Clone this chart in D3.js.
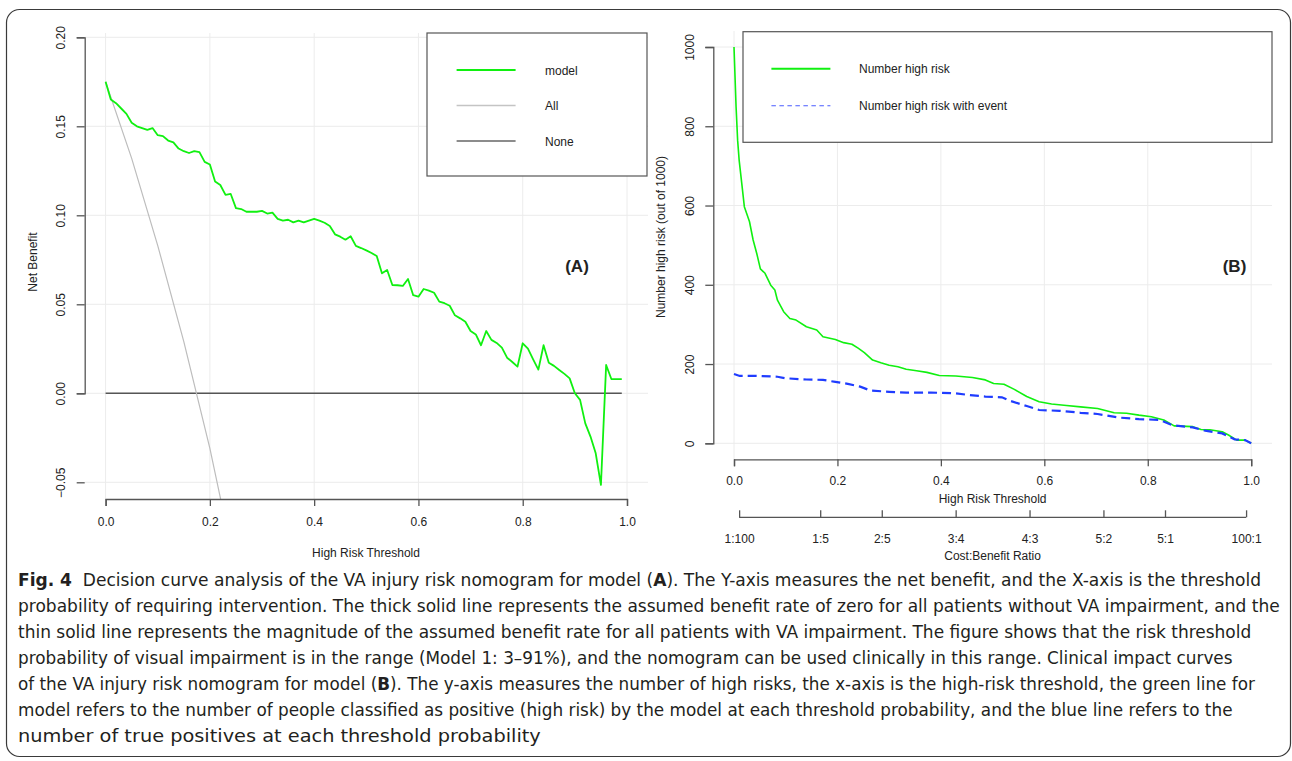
<!DOCTYPE html>
<html>
<head>
<meta charset="utf-8">
<script src="https://cdn.jsdelivr.net/npm/d3@7"></script>
<style>
  body { margin: 0; background: #fff; }
  svg text { font-family: "Liberation Sans", Arial, sans-serif; fill: #222; }
  .cap text { font-family: "Liberation Sans Narrow", "DejaVu Sans Condensed", "Liberation Sans", sans-serif; font-stretch: condensed; fill: #231f20; }
</style>
</head>
<body>
<svg id="fig" width="1292" height="761"></svg>
<script>
// ---- panel A: decision curve ----
var thresholdsA = d3.range(0, 100).map(function (i) { return i / 100; });
var modelNB = [0.175, 0.165, 0.163, 0.160, 0.157, 0.152, 0.150, 0.149, 0.148, 0.149,
  0.145, 0.1445, 0.142, 0.141, 0.1375, 0.136, 0.135, 0.136, 0.1355, 0.130,
  0.1285, 0.119, 0.117, 0.1115, 0.112, 0.104, 0.1035, 0.102, 0.102, 0.102,
  0.1025, 0.101, 0.1015, 0.098, 0.097, 0.0975, 0.096, 0.097, 0.096, 0.097,
  0.098, 0.097, 0.0958, 0.094, 0.0893, 0.088, 0.0863, 0.0882, 0.0828, 0.0816,
  0.0803, 0.0788, 0.0771, 0.0674, 0.0693, 0.0608, 0.0607, 0.0603, 0.0642, 0.0551,
  0.0543, 0.0586, 0.0577, 0.0565, 0.0515, 0.0506, 0.0492, 0.0438, 0.0421, 0.0402,
  0.035, 0.0331, 0.027, 0.035, 0.030, 0.0283, 0.0257, 0.020, 0.0176, 0.015,
  0.0281, 0.0251, 0.0191, 0.0133, 0.027, 0.0172, 0.0154, 0.0131, 0.0109, 0.0084,
  0.0, -0.0037, -0.0169, -0.0243, -0.0337, -0.0515, 0.0159, 0.008, 0.008, 0.008];
var allP = [0, 0.05, 0.10, 0.15, 0.20, 0.25];
var allNB = [0.175, 0.132, 0.083, 0.029, -0.031, -0.100];
var noneP = [0, 0.99];
var noneNB = [0, 0];
var yTicksA = [-0.05, 0.00, 0.05, 0.10, 0.15, 0.20];
var legendA = ["model", "All", "None"];

// ---- panel B: clinical impact curve ----
var riskP = [0, 0.004, 0.007, 0.010, 0.015, 0.02, 0.03, 0.037, 0.044, 0.051, 0.06, 0.071, 0.079,
  0.084, 0.096, 0.108, 0.12, 0.14, 0.16, 0.172, 0.196, 0.212, 0.228, 0.24, 0.252, 0.268,
  0.284, 0.30, 0.317, 0.333, 0.353, 0.373, 0.397, 0.429, 0.461, 0.486, 0.502, 0.522,
  0.542, 0.566, 0.59, 0.614, 0.638, 0.67, 0.703, 0.735, 0.759, 0.783, 0.807, 0.831,
  0.851, 0.887, 0.903, 0.92, 0.944, 0.956, 0.972, 0.988, 1.0];
var riskN = [1000, 849, 765, 714, 656, 597, 559, 513, 479, 440, 429, 399, 387,
  361, 332, 315, 311, 294, 286, 269, 262, 254, 250, 240, 229, 210,
  203, 197, 193, 187, 183, 179, 171, 170, 166, 160, 151, 149,
  136, 118, 105, 99, 96, 92, 88, 77, 76, 71, 67, 59,
  44, 42, 35, 34, 29, 21, 8, 8, 0];
var eventP = [0, 0.011, 0.043, 0.084, 0.10, 0.14, 0.172, 0.196, 0.22, 0.244, 0.264, 0.30,
  0.333, 0.381, 0.429, 0.453, 0.486, 0.518, 0.534, 0.566, 0.59, 0.63, 0.67, 0.703,
  0.743, 0.783, 0.823, 0.847, 0.887, 0.911, 0.944, 0.968, 0.988, 1.0];
var eventN = [175, 170, 170, 168, 164, 161, 160, 155, 150, 143, 133, 130,
  128, 128, 126, 122, 118, 116, 107, 94, 84, 82, 77, 74,
  65, 61, 59, 46, 40, 32, 25, 10, 8, 0];
var yTicksB = [0, 200, 400, 600, 800, 1000];
var costRatios = ["1:100", "1:5", "2:5", "3:4", "4:3", "5:2", "5:1", "100:1"];
var legendB = ["Number high risk", "Number high risk with event"];

var xTicks = [0, 0.2, 0.4, 0.6, 0.8, 1.0];

var captionLines = [
  [["Fig. 4", true], ["  Decision curve analysis of the VA injury risk nomogram for model (", false], ["A", true], ["). The Y-axis measures the net benefit, and the X-axis is the threshold", false]],
  [["probability of requiring intervention. The thick solid line represents the assumed benefit rate of zero for all patients without VA impairment, and the", false]],
  [["thin solid line represents the magnitude of the assumed benefit rate for all patients with VA impairment. The figure shows that the risk threshold", false]],
  [["probability of visual impairment is in the range (Model 1: 3\u201391%), and the nomogram can be used clinically in this range. Clinical impact curves", false]],
  [["of the VA injury risk nomogram for model (", false], ["B", true], ["). The y-axis measures the number of high risks, the x-axis is the high-risk threshold, the green line for", false]],
  [["model refers to the number of people classified as positive (high risk) by the model at each threshold probability, and the blue line refers to the", false]],
  [["number of true positives at each threshold probability", false]]
];
var captionEnds = [1262, 1280, 1252, 1233, 1255, 1233, 541];

var GREEN = "#10f010";
var BLUE = "#1f3cff";

var svg = d3.select("#fig");

// outer frame
svg.append("rect")
  .attr("x", 6.5).attr("y", 9.5).attr("width", 1284).attr("height", 747)
  .attr("rx", 13).attr("fill", "none").attr("stroke", "#3a3a3a").attr("stroke-width", 1.2);

// ---------- Panel A ----------
var regA = { left: 84.7, right: 648, top: 33, bottom: 499 };
var xA = d3.scaleLinear().domain([0, 1]).range([105.6, 627]);
var yA = d3.scaleLinear().domain([0, 0.2]).range([393.3, 37.3]);

var gA = svg.append("g");
gA.append("clipPath").attr("id", "clipA").append("rect")
  .attr("x", regA.left).attr("y", regA.top)
  .attr("width", regA.right - regA.left).attr("height", regA.bottom - regA.top);

// grid
xTicks.forEach(function (t) {
  gA.append("line").attr("x1", xA(t)).attr("x2", xA(t)).attr("y1", regA.top).attr("y2", regA.bottom)
    .attr("stroke", "#ececec").attr("stroke-width", 1);
});
yTicksA.forEach(function (t) {
  gA.append("line").attr("x1", regA.left).attr("x2", regA.right).attr("y1", yA(t)).attr("y2", yA(t))
    .attr("stroke", "#ececec").attr("stroke-width", 1);
});

var lineA = d3.line().x(function (d) { return xA(d[0]); }).y(function (d) { return yA(d[1]); });

gA.append("path").datum(d3.zip(noneP, noneNB)).attr("d", lineA)
  .attr("fill", "none").attr("stroke", "#555").attr("stroke-width", 1.6);
gA.append("path").datum(d3.zip(allP, allNB)).attr("d", lineA).attr("clip-path", "url(#clipA)")
  .attr("fill", "none").attr("stroke", "#bdbdbd").attr("stroke-width", 1.2);
gA.append("path").datum(d3.zip(thresholdsA, modelNB)).attr("d", lineA)
  .attr("fill", "none").attr("stroke", GREEN).attr("stroke-width", 1.8).attr("stroke-linejoin", "round");

// axes
var axAx = gA.append("g").attr("transform", "translate(0," + regA.bottom + ")")
  .call(d3.axisBottom(xA).tickValues(xTicks).tickFormat(d3.format(".1f")).tickSizeOuter(0).tickSize(7).tickPadding(11));
var axAy = gA.append("g").attr("transform", "translate(" + regA.left + ",0)")
  .call(d3.axisLeft(yA).tickValues(yTicksA).tickFormat(d3.format(".2f")).tickSizeOuter(0).tickSize(8));

[axAx, axAy].forEach(function (a) {
  a.select(".domain").attr("stroke", "#555").attr("stroke-width", 1.3);
  a.selectAll(".tick line").attr("stroke", "#555").attr("stroke-width", 1.3);
  a.selectAll("text").attr("font-size", 12).attr("fill", "#222")
    .attr("font-family", "Liberation Sans, Arial, sans-serif");
});
axAy.selectAll(".tick text")
  .attr("x", 0).attr("dy", null).attr("text-anchor", "middle").attr("dominant-baseline", "middle")
  .attr("transform", "translate(-23,0) rotate(-90)");

gA.append("text").attr("x", 366).attr("y", 557).attr("text-anchor", "middle").attr("font-size", 12)
  .text("High Risk Threshold");
gA.append("text").attr("transform", "translate(37,262) rotate(-90)").attr("text-anchor", "middle")
  .attr("font-size", 12).text("Net Benefit");
gA.append("text").attr("x", 577).attr("y", 272).attr("text-anchor", "middle").attr("font-size", 17)
  .attr("font-weight", "bold").text("(A)");

// legend A
var legA = gA.append("g");
legA.append("rect").attr("x", 427).attr("y", 33).attr("width", 220).attr("height", 143)
  .attr("fill", "#fff").attr("stroke", "#555").attr("stroke-width", 1.2);
var legAstyle = [[GREEN, 1.8], ["#c4c4c4", 1.5], ["#666", 1.6]];
legendA.forEach(function (name, i) {
  var y = 70 + i * 35.5;
  legA.append("line").attr("x1", 456.6).attr("x2", 515.6).attr("y1", y).attr("y2", y)
    .attr("stroke", legAstyle[i][0]).attr("stroke-width", legAstyle[i][1]);
  legA.append("text").attr("x", 545).attr("y", y + 4.5).attr("font-size", 12).text(name);
});

// ---------- Panel B ----------
var regB = { left: 713.3, right: 1272, top: 31, bottom: 459.3 };
var xB = d3.scaleLinear().domain([0, 1]).range([734, 1251.2]);
var yB = d3.scaleLinear().domain([0, 1000]).range([443.3, 47]);

var gB = svg.append("g");
xTicks.forEach(function (t) {
  gB.append("line").attr("x1", xB(t)).attr("x2", xB(t)).attr("y1", regB.top).attr("y2", regB.bottom)
    .attr("stroke", "#ececec").attr("stroke-width", 1);
});
yTicksB.forEach(function (t) {
  gB.append("line").attr("x1", regB.left).attr("x2", regB.right).attr("y1", yB(t)).attr("y2", yB(t))
    .attr("stroke", "#ececec").attr("stroke-width", 1);
});

var lineB = d3.line().x(function (d) { return xB(d[0]); }).y(function (d) { return yB(d[1]); });
gB.append("path").datum(d3.zip(riskP, riskN)).attr("d", lineB)
  .attr("fill", "none").attr("stroke", GREEN).attr("stroke-width", 1.6).attr("stroke-linejoin", "round");
gB.append("path").datum(d3.zip(eventP, eventN)).attr("d", lineB)
  .attr("fill", "none").attr("stroke", BLUE).attr("stroke-width", 2.2).attr("stroke-dasharray", "9,5");

var axBx = gB.append("g").attr("transform", "translate(0," + regB.bottom + ")")
  .call(d3.axisBottom(xB).tickValues(xTicks).tickFormat(d3.format(".1f")).tickSizeOuter(0).tickSize(7).tickPadding(10));
var axBy = gB.append("g").attr("transform", "translate(" + regB.left + ",0)")
  .call(d3.axisLeft(yB).tickValues(yTicksB).tickFormat(d3.format("d")).tickSizeOuter(0).tickSize(8));

// cost:benefit axis, threshold p = a / (a + b)
var costP = costRatios.map(function (r) {
  var ab = r.split(":").map(Number);
  return ab[0] / (ab[0] + ab[1]);
});
var axBc = gB.append("g").attr("transform", "translate(0,517.3)")
  .call(d3.axisBottom(xB).tickValues(costP).tickFormat(function (d, i) { return costRatios[i]; })
    .tickSizeOuter(0).tickSize(7).tickPadding(10));

[axBx, axBy, axBc].forEach(function (a) {
  a.select(".domain").attr("stroke", "#555").attr("stroke-width", 1.3);
  a.selectAll(".tick line").attr("stroke", "#555").attr("stroke-width", 1.3);
  a.selectAll("text").attr("font-size", 12).attr("fill", "#222")
    .attr("font-family", "Liberation Sans, Arial, sans-serif");
});
axBc.select(".domain").attr("d", "M" + xB(costP[0]) + ",0H" + xB(costP[costP.length - 1]));
axBc.selectAll(".tick line").attr("y1", -7).attr("y2", 0);
axBc.selectAll(".tick text").attr("y", 17);
axBy.selectAll(".tick text")
  .attr("x", 0).attr("dy", null).attr("text-anchor", "middle").attr("dominant-baseline", "middle")
  .attr("transform", "translate(-22,0) rotate(-90)");

gB.append("text").attr("x", 992.6).attr("y", 503).attr("text-anchor", "middle").attr("font-size", 12)
  .text("High Risk Threshold");
gB.append("text").attr("x", 992.6).attr("y", 560).attr("text-anchor", "middle").attr("font-size", 12)
  .text("Cost:Benefit Ratio");
gB.append("text").attr("transform", "translate(665,237) rotate(-90)").attr("text-anchor", "middle")
  .attr("font-size", 12).text("Number high risk (out of 1000)");
gB.append("text").attr("x", 1234.5).attr("y", 272).attr("text-anchor", "middle").attr("font-size", 17)
  .attr("font-weight", "bold").text("(B)");

var legB = gB.append("g");
legB.append("rect").attr("x", 743).attr("y", 31.7).attr("width", 529).attr("height", 110.6)
  .attr("fill", "#fff").attr("stroke", "#555").attr("stroke-width", 1.2);
legendB.forEach(function (name, i) {
  var y = 68.7 + i * 37;
  legB.append("line").attr("x1", 771.4).attr("x2", 830.4).attr("y1", y).attr("y2", y)
    .attr("stroke", i === 0 ? GREEN : "#4a5cff").attr("stroke-width", i === 0 ? 2 : 1.1)
    .attr("stroke-dasharray", i === 0 ? null : "4.5,3.5");
  legB.append("text").attr("x", 859).attr("y", y + 4.5).attr("font-size", 12).text(name);
});

// ---------- caption ----------
var cap = svg.append("g").attr("class", "cap");
var capTexts = [], scales = [];
captionLines.forEach(function (parts, i) {
  var t = cap.append("text").attr("x", 0).attr("y", 0).attr("font-size", 18.5);
  parts.forEach(function (p) {
    t.append("tspan").attr("font-weight", p[1] ? "bold" : null)
      .style("white-space", "pre").text(p[0]);
  });
  capTexts.push(t);
  scales.push((captionEnds[i] - 18) / t.node().getComputedTextLength());
});
// squeeze each line so it ends where the printed one does
capTexts.forEach(function (t, i) {
  t.attr("transform", "translate(18," + (586 + i * 26) + ") scale(" + scales[i] + ",1)");
});
</script>
</body>
</html>
